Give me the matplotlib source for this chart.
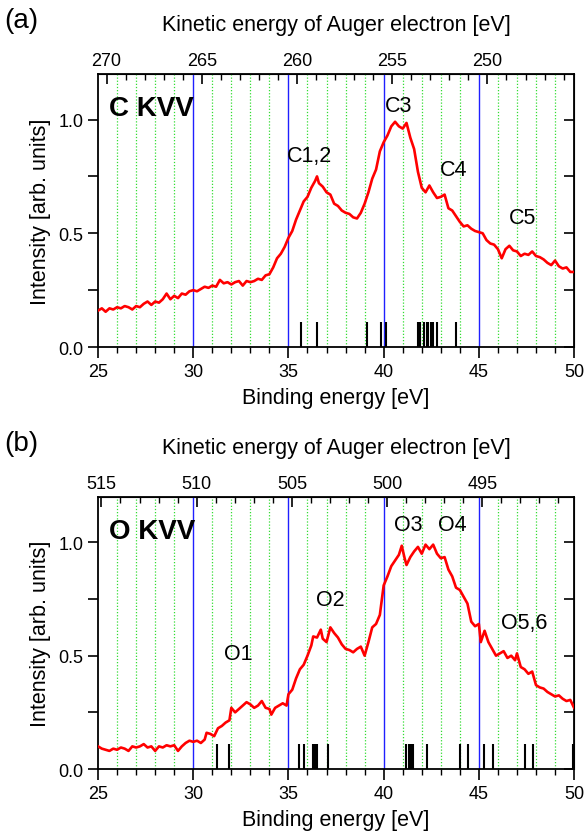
import matplotlib.pyplot as plt
from matplotlib.ticker import MultipleLocator, FixedLocator
import numpy as np

plt.rcParams['font.family'] = ['Liberation Sans', 'DejaVu Sans']

# C KVV spectrum (binding energy [eV], intensity)
c_be = [25.0, 25.2, 25.4, 25.6, 25.8, 26.0, 26.2, 26.4, 26.6, 26.8, 27.0, 27.2, 27.4, 27.6, 27.8,
        28.0, 28.2, 28.4, 28.6, 28.8, 29.0, 29.2, 29.4, 29.6, 29.8, 30.0, 30.2, 30.4, 30.6, 30.8,
        31.0, 31.2, 31.4, 31.6, 31.8, 32.0, 32.2, 32.4, 32.6, 32.8, 33.0, 33.2, 33.4, 33.6, 33.8,
        34.0, 34.2, 34.4, 34.6, 34.8, 35.0, 35.2, 35.4, 35.6, 35.8, 36.0, 36.2, 36.4, 36.5, 36.6,
        36.8, 37.0, 37.2, 37.4, 37.6, 37.8, 38.0, 38.2, 38.4, 38.6, 38.8, 39.0, 39.2, 39.4, 39.6,
        39.8, 40.0, 40.2, 40.4, 40.6, 40.8, 41.0, 41.2, 41.4, 41.6, 41.8, 42.0, 42.2, 42.4, 42.6,
        42.8, 43.0, 43.2, 43.4, 43.6, 43.8, 44.0, 44.2, 44.4, 44.6, 44.8, 45.0, 45.2, 45.4, 45.6,
        45.8, 46.0, 46.2, 46.4, 46.6, 46.8, 47.0, 47.2, 47.4, 47.6, 47.8, 48.0, 48.2, 48.4, 48.6,
        48.8, 49.0, 49.2, 49.4, 49.6, 49.8, 50.0]
c_int = [0.16, 0.17, 0.155, 0.17, 0.165, 0.175, 0.17, 0.18, 0.175, 0.165, 0.18, 0.175, 0.19, 0.2, 0.185,
         0.2, 0.195, 0.21, 0.235, 0.21, 0.225, 0.215, 0.235, 0.23, 0.245, 0.25, 0.245, 0.255, 0.265, 0.26,
         0.27, 0.265, 0.295, 0.28, 0.285, 0.275, 0.285, 0.29, 0.27, 0.29, 0.285, 0.29, 0.3, 0.295, 0.315,
         0.32, 0.35, 0.39, 0.41, 0.44, 0.48, 0.51, 0.56, 0.6, 0.64, 0.66, 0.7, 0.73, 0.75, 0.72,
         0.705, 0.68, 0.67, 0.63, 0.62, 0.6, 0.59, 0.585, 0.57, 0.565, 0.59, 0.63, 0.68, 0.74, 0.78,
         0.86, 0.9, 0.93, 0.97, 0.99, 0.97, 0.96, 0.985, 0.92, 0.87, 0.77, 0.7, 0.68, 0.71, 0.68,
         0.655, 0.66, 0.67, 0.61, 0.6, 0.575, 0.55, 0.53, 0.535, 0.52, 0.51, 0.505, 0.5, 0.47, 0.455,
         0.45, 0.43, 0.39, 0.43, 0.445, 0.425, 0.42, 0.4, 0.41, 0.405, 0.42, 0.4, 0.395, 0.385, 0.37,
         0.36, 0.38, 0.355, 0.345, 0.35, 0.33, 0.33]
c_lines = [35.65, 36.5, 39.1, 39.85, 40.1, 41.8, 41.9, 42.1, 42.25, 42.35, 42.5, 42.6, 42.8, 43.8]
c_peaks = ['C1,2', 'C3', 'C4', 'C5']
c_peak_be = [36.1, 40.8, 43.65, 47.3]
c_peak_y = [0.84, 1.06, 0.78, 0.57]
c_top_ticks = [270, 265, 260, 255, 250]

# O KVV spectrum
o_be = [25.0, 25.2, 25.4, 25.6, 25.8, 26.0, 26.2, 26.4, 26.6, 26.8, 27.0, 27.2, 27.4, 27.6, 27.8,
        28.0, 28.2, 28.4, 28.6, 28.8, 29.0, 29.2, 29.4, 29.6, 29.8, 30.0, 30.2, 30.4, 30.6, 30.7,
        30.9, 31.1, 31.3, 31.5, 31.7, 31.9, 32.0, 32.2, 32.4, 32.6, 32.8, 33.0, 33.2, 33.4, 33.6,
        33.8, 34.0, 34.1, 34.3, 34.5, 34.7, 34.9, 35.0, 35.2, 35.4, 35.6, 35.8, 36.0, 36.2, 36.3,
        36.5, 36.7, 36.8, 37.0, 37.2, 37.4, 37.6, 37.8, 38.0, 38.2, 38.4, 38.6, 38.8, 39.0, 39.2,
        39.4, 39.6, 39.8, 40.0, 40.2, 40.4, 40.6, 40.8, 40.95, 41.1, 41.2, 41.4, 41.6, 41.8, 42.0,
        42.2, 42.4, 42.6, 42.8, 43.0, 43.2, 43.4, 43.6, 43.8, 44.0, 44.2, 44.4, 44.6, 44.8, 45.0,
        45.1, 45.3, 45.5, 45.7, 45.9, 46.1, 46.3, 46.5, 46.7, 46.9, 47.0, 47.2, 47.4, 47.6, 47.8,
        48.0, 48.2, 48.4, 48.6, 48.8, 49.0, 49.2, 49.4, 49.6, 49.8, 50.0]
o_int = [0.1, 0.09, 0.085, 0.08, 0.09, 0.085, 0.095, 0.09, 0.08, 0.1, 0.095, 0.1, 0.11, 0.095, 0.1,
         0.08, 0.1, 0.095, 0.105, 0.1, 0.105, 0.08, 0.1, 0.115, 0.125, 0.12, 0.125, 0.115, 0.13, 0.16,
         0.155, 0.145, 0.18, 0.19, 0.205, 0.215, 0.27, 0.25, 0.265, 0.28, 0.295, 0.285, 0.27, 0.28, 0.3,
         0.27, 0.265, 0.24, 0.27, 0.28, 0.29, 0.28, 0.33, 0.35, 0.4, 0.44, 0.46, 0.5, 0.545, 0.585,
         0.58, 0.615, 0.575, 0.56, 0.625, 0.6, 0.58, 0.55, 0.53, 0.525, 0.515, 0.53, 0.54, 0.5, 0.56,
         0.625, 0.64, 0.68, 0.81, 0.85, 0.895, 0.92, 0.945, 0.985, 0.93, 0.9, 0.935, 0.96, 0.98, 0.95,
         0.99, 0.97, 0.99, 0.95, 0.93, 0.935, 0.88, 0.85, 0.8, 0.79, 0.76, 0.73, 0.65, 0.63, 0.64,
         0.56, 0.61, 0.56, 0.53, 0.5, 0.51, 0.52, 0.49, 0.5, 0.48, 0.51, 0.45, 0.44, 0.42, 0.43,
         0.37, 0.36, 0.355, 0.34, 0.33, 0.32, 0.325, 0.31, 0.3, 0.305, 0.27]
o_lines = [31.25, 31.9, 35.55, 35.8, 36.3, 36.4, 36.5, 37.1, 41.15, 41.35, 41.45, 41.55, 42.3,
           44.0, 44.45, 45.25, 45.75, 47.4, 47.85, 49.95]
o_peaks = ['O1', 'O2', 'O3', 'O4', 'O5,6']
o_peak_be = [32.35, 37.2, 41.3, 43.6, 47.4]
o_peak_y = [0.51, 0.75, 1.08, 1.08, 0.645]
o_top_ticks = [515, 510, 505, 500, 495]

# kinetic energy = offset - binding energy
c_offset = 295.45
o_offset = 540.18


def panel(ax, be, inten, lines, peaks, peak_be, peak_y, offset, top_ticks, name, tag):
    for e in range(26, 50):
        if e % 5 == 0:
            ax.axvline(e, color='#2020ff', lw=1.0, zorder=1)
        else:
            ax.axvline(e, color='#33dd33', lw=0.9, ls=(0, (1, 1.5)), zorder=1)
    ax.plot(be, inten, color='red', lw=1.9, zorder=3)
    ax.vlines(lines, 0, 0.11, color='black', lw=1.5, zorder=2)
    for lab, x, y in zip(peaks, peak_be, peak_y):
        ax.text(x, y, lab, ha='center', va='center', fontsize=15.5)
    ax.text(25.55, 1.05, name, fontsize=20, fontweight='bold', va='center')

    ax.set_xlim(25, 50)
    ax.set_ylim(0, 1.2)
    ax.xaxis.set_major_locator(MultipleLocator(5))
    ax.xaxis.set_minor_locator(MultipleLocator(1))
    ax.yaxis.set_major_locator(FixedLocator([0, 0.5, 1.0]))
    ax.yaxis.set_minor_locator(FixedLocator([0.25, 0.75]))
    ax.tick_params(axis='x', which='major', direction='out', length=8, width=1.2, labelsize=13)
    ax.tick_params(axis='x', which='minor', direction='out', length=4, width=1.0)
    ax.tick_params(axis='y', which='both', direction='out', length=7, width=1.2, labelsize=13)
    ax.set_xlabel('Binding energy [eV]', fontsize=15.5, labelpad=5)
    ax.set_ylabel('Intensity [arb. units]', fontsize=15.5, labelpad=5)
    for s in ax.spines.values():
        s.set_linewidth(1.3)

    # right-hand ticks point inward
    right = ax.secondary_yaxis('right')
    right.yaxis.set_major_locator(FixedLocator([0, 0.25, 0.5, 0.75, 1.0]))
    right.tick_params(direction='in', length=7, width=1.2, labelright=False)

    top = ax.secondary_xaxis('top', functions=(lambda b: offset - b, lambda k: offset - k))
    top.xaxis.set_major_locator(FixedLocator(top_ticks))
    top.xaxis.set_minor_locator(MultipleLocator(1))
    top.tick_params(which='major', direction='in', length=7, width=1.2, labelsize=13)
    top.tick_params(which='minor', direction='in', length=4, width=1.0)
    top.set_xlabel('Kinetic energy of Auger electron [eV]', fontsize=15.5, labelpad=16)

    fig.text(0.008, ax.get_position().y1 + 0.064, tag, fontsize=20, va='center')


fig = plt.figure(figsize=(5.87, 8.37), dpi=100)
ax_a = fig.add_axes([0.167, 0.5842, 0.811, 0.3262])
ax_b = fig.add_axes([0.167, 0.0800, 0.811, 0.3250])
panel(ax_a, c_be, c_int, c_lines, c_peaks, c_peak_be, c_peak_y, c_offset, c_top_ticks,
      'C KVV', '(a)')
panel(ax_b, o_be, o_int, o_lines, o_peaks, o_peak_be, o_peak_y, o_offset, o_top_ticks,
      'O KVV', '(b)')

fig.savefig('out.png', dpi=100)
